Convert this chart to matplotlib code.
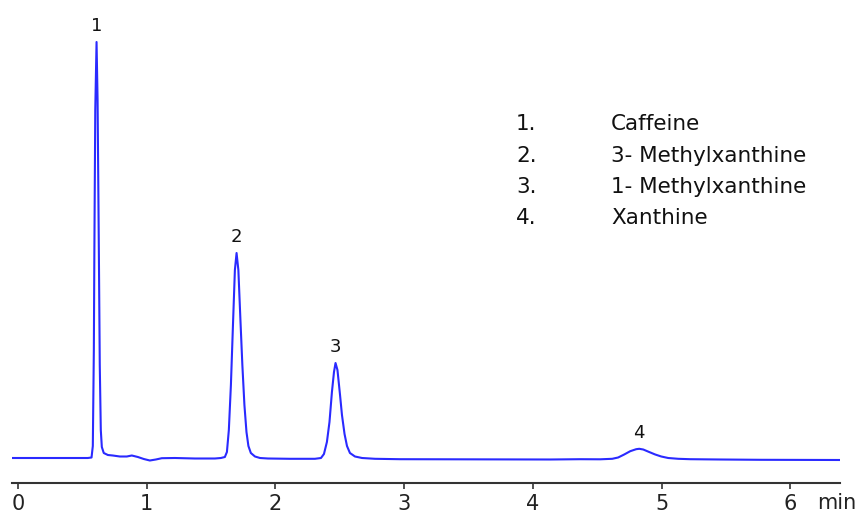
import matplotlib
matplotlib.use("Agg")
import matplotlib.pyplot as plt

# Chromatogramm, Werte (Zeit in min, Signal in willk. Einheiten)
zeit = [
    -0.049, 0.324, 0.542, 0.571, 0.581, 0.589, 0.593, 0.600, 0.610, 0.618,
    0.628, 0.635, 0.643, 0.651, 0.666, 0.698, 0.736, 0.791, 0.845, 0.884,
    0.931, 0.977, 1.024, 1.071, 1.117, 1.219, 1.374, 1.530, 1.576,
    1.607, 1.623, 1.638, 1.654, 1.670, 1.685, 1.698, 1.712, 1.728, 1.743,
    1.759, 1.775, 1.790, 1.809, 1.841, 1.880, 1.942, 2.113, 2.307,
    2.354, 2.377, 2.400, 2.420, 2.439, 2.455, 2.467, 2.482, 2.502, 2.517,
    2.537, 2.556, 2.579, 2.618, 2.673, 2.774, 2.968, 3.357, 3.746, 4.135,
    4.368, 4.523,
    4.617, 4.663, 4.710, 4.757, 4.803, 4.827, 4.858, 4.904, 4.951, 4.998,
    5.052, 5.130, 5.223, 5.456, 5.767, 6.078, 6.389,
]
signal = [
    2.0, 2.0, 2.0, 2.5, 14, 110, 208, 350, 418, 360,
    208, 95, 30, 13, 7, 5, 4.5, 3.5, 3.5, 4.5,
    3.0, 1.0, -0.5, 0.5, 1.8, 2.0, 1.5, 1.5, 2.0,
    3.0, 8, 30, 75, 135, 190, 207, 190, 140, 95,
    55, 28, 14, 7, 3.5, 2.0, 1.5, 1.2, 1.2,
    2.0, 6, 18, 38, 68, 88, 97, 90, 65, 45,
    26, 14, 7, 3.5, 2.0, 1.2, 0.8, 0.7, 0.6, 0.5,
    0.8, 0.7,
    1.2, 2.5, 5.5, 8.8, 10.8, 11.2, 10.5, 8.0, 5.5, 3.5,
    2.0, 1.2, 0.8, 0.5, 0.2, 0.1, 0.0,
]

peak_nr = ['1', '2', '3', '4']
peak_zeit = [0.610, 1.698, 2.467, 4.827]
peak_hoehe = [418, 207, 97, 11.2]

substanzen = ['Caffeine', '3- Methylxanthine', '1- Methylxanthine', 'Xanthine']
x_ticks = [0, 1, 2, 3, 4, 5, 6]

W, H = 859, 515
fig = plt.figure(figsize=(W / 100, H / 100), dpi=100)
ax = fig.add_axes([12 / W, 32 / H, 828 / W, 468 / H])

ax.plot(zeit, signal, color='#2a2aff', lw=1.5, solid_joinstyle='round')

for nr, t, h in zip(peak_nr, peak_zeit, peak_hoehe):
    ax.annotate(nr, (t, h), xytext=(0, 11.5), textcoords='offset points',
                ha='center', va='center', fontsize=13, color='#111111')

ax.set_xlim(-0.047, 6.387)
ax.set_ylim(-23, 445)
ax.set_xticks(x_ticks)
ax.set_xticklabels([str(v) for v in x_ticks])
ax.set_yticks([])
for s in ['left', 'right', 'top']:
    ax.spines[s].set_visible(False)
ax.spines['bottom'].set_color('#333333')
ax.spines['bottom'].set_linewidth(1.5)
ax.tick_params(axis='x', direction='out', length=4, width=1.2, color='#333333',
               labelsize=15, labelcolor='#222222', pad=4)

# "min" am rechten Ende der Achse
ax.text(6.21, -0.043, 'min', transform=ax.get_xaxis_transform(), fontsize=15,
        color='#222222', ha='left', va='center')

# Legende als Text
zeilen_y = [130, 161.5, 193, 224.5]
for i, (name, y) in enumerate(zip(substanzen, zeilen_y)):
    fig.text(516 / W, 1 - y / H, f'{i + 1}.', fontsize=15.5, color='#111111', va='baseline')
    fig.text(611 / W, 1 - y / H, name, fontsize=15.5, color='#111111', va='baseline')

fig.savefig('out.png', dpi=100)
